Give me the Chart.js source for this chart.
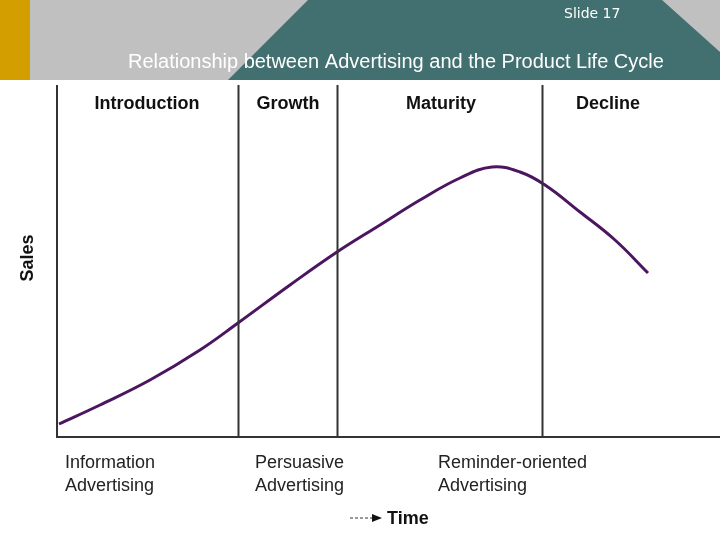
<!DOCTYPE html>
<html>
<head>
<meta charset="utf-8">
<script src="https://cdn.jsdelivr.net/npm/chart.js"></script>
<style>
  html, body { margin: 0; padding: 0; background: #fff; }
  #wrap { width: 720px; height: 540px; }
</style>
</head>
<body>
<div id="wrap"><canvas id="plc" width="720" height="540"></canvas></div>
<script>
// time (arbitrary units) and sales
const timePoints = [2, 43, 93, 143, 181, 233, 280, 323, 363, 403, 435, 463, 488, 523, 558, 591];
const salesValues = [13, 32, 57, 87, 114, 152, 185, 212, 237, 259, 270, 265, 252, 225, 197, 164];
const phaseBounds = [181, 280, 485];
const phaseLabels = ['Introduction', 'Growth', 'Maturity', 'Decline'];
const phaseCenters = [90, 231, 384, 551];
const adLabels = [['Information', 'Advertising'], ['Persuasive', 'Advertising'], ['Reminder-oriented', 'Advertising']];
const adStarts = [8, 198, 381];

const NARROW = '"Liberation Sans Narrow", "Liberation Sans", Arial, sans-serif';

const slideDecor = {
    id: 'slideDecor',
    beforeDraw(chart) {
        const c = chart.ctx;
        c.save();
        // header band
        c.fillStyle = '#c0c0c0';
        c.fillRect(30, 0, 690, 80);
        c.fillStyle = '#426f6f';
        c.beginPath();
        c.moveTo(228, 80); c.lineTo(308, 0); c.lineTo(662, 0); c.lineTo(720, 52); c.lineTo(720, 80);
        c.closePath(); c.fill();
        c.fillStyle = '#d39e00';
        c.fillRect(0, 0, 30, 80);
        c.fillStyle = '#fff';
        c.font = '14px "DejaVu Sans", sans-serif';
        c.textBaseline = 'alphabetic';
        c.fillText('Slide 17', 564, 18);
        c.font = '20px "Liberation Sans", Arial, sans-serif';
        c.fillText('Relationship between Advertising and the Product Life Cycle', 128, 68);
        c.restore();
    },
    afterDraw(chart) {
        const c = chart.ctx;
        const x = chart.scales.x, a = chart.chartArea;
        c.save();
        c.strokeStyle = '#333';
        c.lineWidth = 2;
        c.beginPath();
        c.moveTo(a.left, a.top); c.lineTo(a.left, a.bottom); c.lineTo(720, a.bottom);
        phaseBounds.forEach(v => {
            const px = Math.round(x.getPixelForValue(v)) + 0.5;
            c.moveTo(px, a.top); c.lineTo(px, a.bottom);
        });
        c.stroke();

        c.fillStyle = '#111';
        c.font = 'bold 18px ' + NARROW;
        c.textAlign = 'center';
        phaseLabels.forEach((t, i) => c.fillText(t, x.getPixelForValue(phaseCenters[i]), 109));

        c.font = '18px ' + NARROW;
        c.fillStyle = '#222';
        c.textAlign = 'left';
        adLabels.forEach((lines, i) => {
            lines.forEach((t, j) => c.fillText(t, x.getPixelForValue(adStarts[i]), 468 + j * 23));
        });

        c.font = 'bold 18px ' + NARROW;
        c.fillStyle = '#111';
        c.fillText('Time', 387, 524);
        c.strokeStyle = '#333';
        c.lineWidth = 1;
        c.setLineDash([3, 2]);
        c.beginPath(); c.moveTo(350, 518); c.lineTo(376, 518); c.stroke();
        c.setLineDash([]);
        c.beginPath(); c.moveTo(372, 514); c.lineTo(382, 518); c.lineTo(372, 522); c.closePath();
        c.fill();

        c.translate(33, 258);
        c.rotate(-Math.PI / 2);
        c.textAlign = 'center';
        c.fillText('Sales', 0, 0);
        c.restore();
    }
};

new Chart(document.getElementById('plc'), {
    type: 'line',
    data: {
        datasets: [{
            data: timePoints.map((t, i) => ({ x: t, y: salesValues[i] })),
            borderColor: '#4b1560',
            borderWidth: 3,
            pointRadius: 0,
            tension: 0.4,
            fill: false
        }]
    },
    options: {
        responsive: false,
        animation: false,
        layout: { padding: { left: 57, top: 85, right: 0, bottom: 103 } },
        plugins: { legend: { display: false }, tooltip: { enabled: false } },
        scales: {
            x: { type: 'linear', min: 0, max: 663, display: false },
            y: { min: 0, max: 352, display: false }
        }
    },
    plugins: [slideDecor]
});
</script>
</body>
</html>
